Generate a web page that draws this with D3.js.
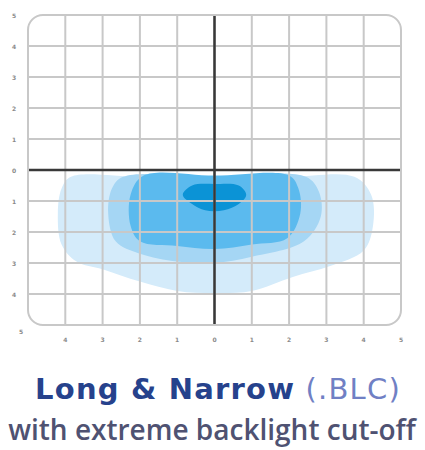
<!DOCTYPE html>
<html>
<head>
<meta charset="utf-8">
<script src="https://cdn.jsdelivr.net/npm/d3@7"></script>
<style>
  body { margin: 0; background: #fff; }
</style>
</head>
<body>
<div id="chart"></div>
<script>
var width = 425;
var height = 450;

// contour outlines in grid units (x: -5..5, y: -5..5), outermost first
var levelOuter = [[-3.85,-0.22],[-2,-0.22],[0,-0.22],[2,-0.22],[3.75,-0.22],[4.2,-0.8],[4.25,-1.8],[4.0,-2.6],[3.1,-3.1],[2.1,-3.45],[1.0,-3.9],[0,-3.97],[-1.0,-3.9],[-2.0,-3.6],[-3.0,-3.2],[-3.7,-2.95],[-4.1,-2.4],[-4.2,-1.4],[-4.1,-0.6]];
var levelSecond = [[-2.45,-0.22],[0,-0.22],[2.45,-0.22],[2.8,-0.7],[2.85,-1.5],[2.4,-2.3],[1.0,-2.8],[0,-3.0],[-1.0,-2.95],[-2.0,-2.7],[-2.65,-2.3],[-2.85,-1.4],[-2.75,-0.6]];
var levelThird = [[-1.9,-0.18],[0,-0.18],[2.0,-0.18],[2.25,-0.6],[2.3,-1.4],[1.95,-2.2],[1.0,-2.4],[0,-2.55],[-1.0,-2.45],[-2.0,-2.3],[-2.25,-1.8],[-2.25,-0.8]];
var levelCenter = [[-0.85,-0.8],[-0.6,-0.5],[0,-0.45],[0.65,-0.5],[0.85,-0.8],[0.65,-1.1],[0.25,-1.3],[-0.25,-1.3],[-0.6,-1.1]];

var levelColors = ["#d4ebfa", "#a5d6f4", "#5bbaee", "#0b93d6"];

var yTickValues = [5, 4, 3, 2, 1, 0, -1, -2, -3, -4];
var yTickLabels = ["5", "4", "3", "2", "1", "0", "1", "2", "3", "4"];
var xTickValues = [-4, -3, -2, -1, 0, 1, 2, 3, 4, 5];
var xTickLabels = ["4", "3", "2", "1", "0", "1", "2", "3", "4", "5"];
var cornerLabel = "5";

var title = "Long & Narrow";
var titleSuffix = " (.BLC)";
var subtitle = "with extreme backlight cut-off";

var svg = d3.select("#chart")
    .append("svg")
    .attr("width", width)
    .attr("height", height);

var x = d3.scaleLinear()
    .domain([-5, 5])
    .range([28, 401]);

var y = d3.scaleLinear()
    .domain([-5, 5])
    .range([325, 15]);

// clip everything to the rounded frame
svg.append("clipPath")
    .attr("id", "frame")
    .append("rect")
    .attr("x", x(-5))
    .attr("y", y(5))
    .attr("width", x(5) - x(-5))
    .attr("height", y(-5) - y(5))
    .attr("rx", 15);

var plot = svg.append("g").attr("clip-path", "url(#frame)");

var shape = d3.line()
    .x((d) => x(d[0]))
    .y((d) => y(d[1]))
    .curve(d3.curveCatmullRomClosed.alpha(0.5));

plot.selectAll("path.level")
    .data([levelOuter, levelSecond, levelThird, levelCenter])
    .enter()
    .append("path")
    .attr("class", "level")
    .attr("d", shape)
    .style("fill", (d, i) => levelColors[i]);

// grid
var grid = d3.range(-4, 5);
plot.selectAll("line.vgrid")
    .data(grid)
    .enter()
    .append("line")
    .attr("x1", (d) => x(d)).attr("x2", (d) => x(d))
    .attr("y1", y(5)).attr("y2", y(-5))
    .style("stroke", "#c8c8c8")
    .style("stroke-width", 2);

plot.selectAll("line.hgrid")
    .data(grid)
    .enter()
    .append("line")
    .attr("y1", (d) => y(d)).attr("y2", (d) => y(d))
    .attr("x1", x(-5)).attr("x2", x(5))
    .style("stroke", "#c8c8c8")
    .style("stroke-width", 2);

// dark centre axes
plot.append("line")
    .attr("x1", x(-5)).attr("x2", x(5))
    .attr("y1", y(0)).attr("y2", y(0))
    .style("stroke", "#383838")
    .style("stroke-width", 2.5);

plot.append("line")
    .attr("x1", x(0)).attr("x2", x(0))
    .attr("y1", y(5)).attr("y2", y(-5))
    .style("stroke", "#383838")
    .style("stroke-width", 2.5);

svg.append("rect")
    .attr("x", x(-5))
    .attr("y", y(5))
    .attr("width", x(5) - x(-5))
    .attr("height", y(-5) - y(5))
    .attr("rx", 15)
    .style("fill", "none")
    .style("stroke", "#c8c8c8")
    .style("stroke-width", 2);

// tiny tick labels
var tickStyle = (sel) => sel
    .style("font-family", "DejaVu Sans")
    .style("font-size", "6px")
    .style("font-weight", "bold")
    .style("fill", "#8a8a8a")
    .attr("text-anchor", "middle")
    .attr("dominant-baseline", "central");

svg.append("g")
    .selectAll("text")
    .data(yTickValues)
    .enter()
    .append("text")
    .attr("x", 14)
    .attr("y", (d) => y(d))
    .text((d, i) => yTickLabels[i])
    .call(tickStyle);

svg.append("g")
    .selectAll("text")
    .data(xTickValues)
    .enter()
    .append("text")
    .attr("x", (d) => x(d))
    .attr("y", 339)
    .text((d, i) => xTickLabels[i])
    .call(tickStyle);

svg.append("text")
    .attr("x", 21)
    .attr("y", 331)
    .text(cornerLabel)
    .call(tickStyle);

// caption
var cap = svg.append("text")
    .attr("x", 218)
    .attr("y", 399)
    .attr("text-anchor", "middle")
    .style("font-family", "DejaVu Sans")
    .style("font-size", "29px")
    .style("letter-spacing", "1.2px");

cap.append("tspan")
    .text(title)
    .style("font-weight", "bold")
    .style("fill", "#26428c");

cap.append("tspan")
    .text(titleSuffix)
    .style("fill", "#7080c4");

svg.append("text")
    .attr("x", 212)
    .attr("y", 440)
    .attr("text-anchor", "middle")
    .style("font-family", "Open Sans")
    .style("font-weight", "600")
    .style("font-size", "28px")
    .style("fill", "#4f5272")
    .text(subtitle);
</script>
</body>
</html>
